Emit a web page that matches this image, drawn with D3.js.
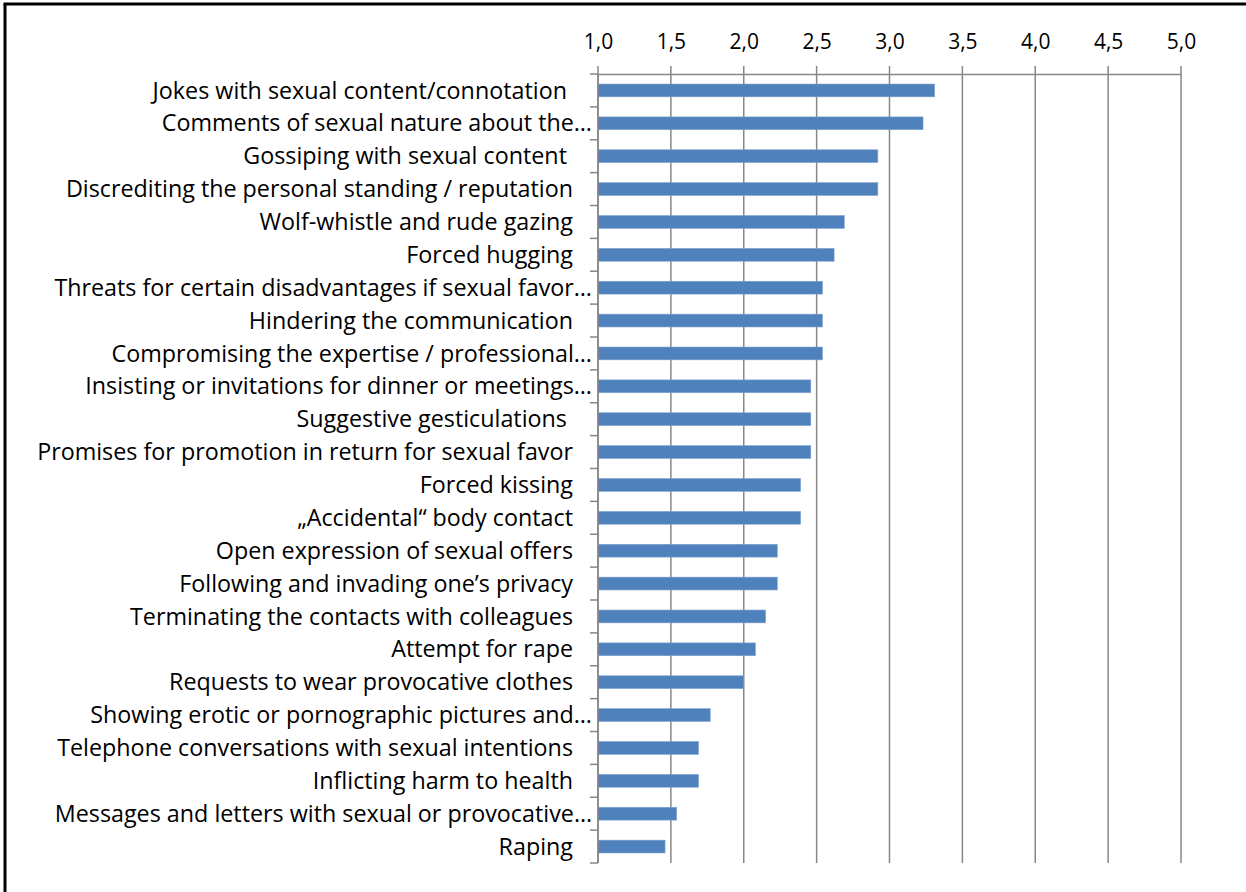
<!DOCTYPE html>
<html>
<head>
<meta charset="utf-8">
<script src="https://cdn.jsdelivr.net/npm/d3@7"></script>
<style>
  body { margin: 0; background: #fff; overflow: hidden; }
  svg { display: block; }
  text { font-family: "Open Sans", sans-serif; }
</style>
</head>
<body>
<div id="vis"></div>
<script>
// data
const categories = [
  'Jokes with sexual content/connotation ',
  'Comments of sexual nature about the\u2026',
  'Gossiping with sexual content ',
  'Discrediting the personal standing / reputation',
  'Wolf-whistle and rude gazing',
  'Forced hugging',
  'Threats for certain disadvantages if sexual favor\u2026',
  'Hindering the communication',
  'Compromising the expertise / professional\u2026',
  'Insisting or invitations for dinner or meetings\u2026',
  'Suggestive gesticulations ',
  'Promises for promotion in return for sexual favor',
  'Forced kissing',
  '\u201eAccidental\u201c body contact',
  'Open expression of sexual offers',
  'Following and invading one\u2019s privacy',
  'Terminating the contacts with colleagues',
  'Attempt for rape',
  'Requests to wear provocative clothes',
  'Showing erotic or pornographic pictures and\u2026',
  'Telephone conversations with sexual intentions',
  'Inflicting harm to health',
  'Messages and letters with sexual or provocative\u2026',
  'Raping'
];
const values = [3.31, 3.23, 2.92, 2.92, 2.69, 2.62, 2.54, 2.54, 2.54, 2.46, 2.46, 2.46,
  2.39, 2.39, 2.23, 2.23, 2.15, 2.08, 2.00, 1.77, 1.69, 1.69, 1.54, 1.46];
const xTicks = [1.0, 1.5, 2.0, 2.5, 3.0, 3.5, 4.0, 4.5, 5.0];

const data = categories.map((c, i) => ({name: c, value: values[i]}));

const W = 1246, H = 892;
const margin = {top: 74, left: 598, right: 65, bottom: 29};

const svg = d3.select('#vis').append('svg')
  .attr('width', W)
  .attr('height', H);

// frame around the figure: only top and left edges are in view
svg.append('line')
  .attr('x1', 3.5).attr('x2', W).attr('y1', 4).attr('y2', 4)
  .attr('stroke', '#000').attr('stroke-width', 3);
svg.append('line')
  .attr('x1', 5).attr('x2', 5).attr('y1', 4).attr('y2', H)
  .attr('stroke', '#000').attr('stroke-width', 3);

const xScale = d3.scaleLinear()
  .domain([1, 5])
  .range([margin.left, W - margin.right]);

const yScale = d3.scaleBand()
  .domain(categories)
  .range([margin.top, H - margin.bottom])
  .paddingInner(0.61)
  .paddingOuter(0.305);

const fmt = d3.formatLocale({decimal: ',', thousands: '.', grouping: [3], currency: ['', '']}).format('.1f');

// gridlines
svg.append('g')
  .selectAll('line')
  .data(xTicks)
  .join('line')
  .attr('x1', d => xScale(d)).attr('x2', d => xScale(d))
  .attr('y1', margin.top - 8).attr('y2', H - margin.bottom)
  .attr('stroke', '#878787')
  .attr('stroke-width', 1.5);

// top axis
const xAxis = d3.axisTop(xScale).tickValues(xTicks).tickFormat(fmt).tickSize(0).tickPadding(25);
const gx = svg.append('g')
  .attr('transform', `translate(0,${margin.top})`)
  .call(xAxis);
gx.select('.domain').attr('stroke', '#878787').attr('stroke-width', 1.5);
gx.selectAll('text')
  .attr('fill', '#000')
  .style('font-size', '21px');

// bars
svg.selectAll('.bar')
  .data(data)
  .join('rect')
  .attr('class', 'bar')
  .attr('x', xScale(1))
  .attr('y', d => yScale(d.name))
  .attr('width', d => xScale(d.value) - xScale(1))
  .attr('height', yScale.bandwidth())
  .attr('fill', '#4F81BD')
  .attr('stroke', '#7FA3CF')
  .attr('stroke-width', 0.6);

// left axis
const yAxis = d3.axisLeft(yScale).tickSize(0).tickFormat('');
const gy = svg.append('g')
  .attr('transform', `translate(${margin.left},0)`)
  .call(yAxis);
gy.select('.domain').remove();
gy.append('line')
  .attr('x1', 0).attr('x2', 0)
  .attr('y1', margin.top).attr('y2', H - margin.bottom)
  .attr('stroke', '#878787').attr('stroke-width', 1.5);
const bounds = categories.map((c, i) => margin.top + i * yScale.step()).concat([H - margin.bottom]);
gy.selectAll('.ctick')
  .data(bounds)
  .join('line')
  .attr('class', 'ctick')
  .attr('x1', -8).attr('x2', 0)
  .attr('y1', d => d).attr('y2', d => d)
  .attr('stroke', '#878787').attr('stroke-width', 1.5);

// category labels
svg.append('g')
  .selectAll('text')
  .data(data)
  .join('text')
  .attr('x', d => d.name.endsWith('\u2026') ? 592 : 573)
  .attr('y', d => yScale(d.name) + yScale.bandwidth() / 2)
  .attr('dy', '0.35em')
  .attr('text-anchor', 'end')
  .style('white-space', 'pre')
  .style('font-size', '23.3px')
  .attr('fill', '#000')
  .text(d => d.name);
</script>
</body>
</html>
